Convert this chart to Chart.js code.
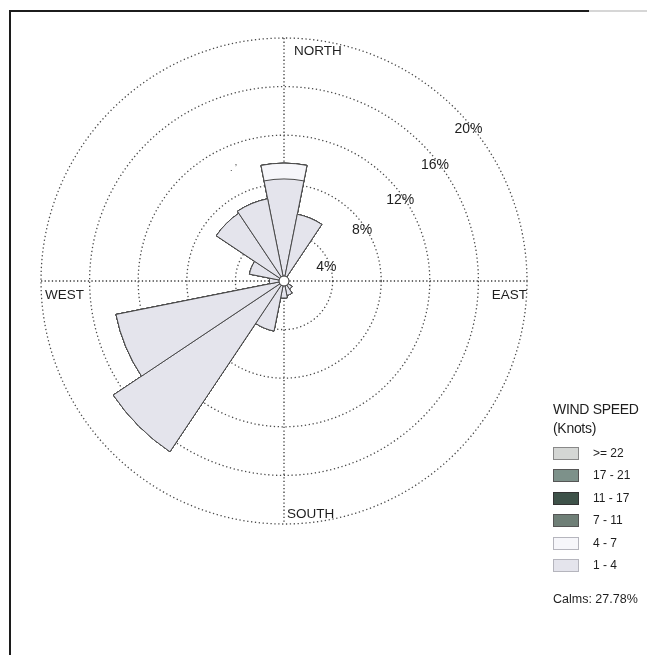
<!DOCTYPE html>
<html>
<head>
<meta charset="utf-8">
<script src="https://cdn.jsdelivr.net/npm/chart.js@4.4.0/dist/chart.umd.min.js"></script>
<style>
html,body{margin:0;padding:0;background:#fff;width:647px;height:655px;overflow:hidden;font-family:"Liberation Sans",Arial,sans-serif;}
#wrap{position:absolute;left:0;top:0;width:647px;height:655px;}
#c{position:absolute;left:0;top:0;}
#frameTop{position:absolute;left:9px;top:10px;width:580px;height:2px;background:#1c1c1c;}
#frameTop2{position:absolute;left:589px;top:10px;width:58px;height:2px;background:#d6d6d6;}
#frameLeft{position:absolute;left:9px;top:10px;width:2px;height:645px;background:#1c1c1c;}
#legend{position:absolute;left:553px;top:400px;color:#1e1e1e;}
#legend .t{font-size:14px;line-height:19px;letter-spacing:-0.3px;}
#legend .row{position:absolute;left:0;height:14px;width:100px;}
#legend .box{position:absolute;left:0;top:0;width:26px;height:13px;box-sizing:border-box;border:1px solid #888;}
#legend .lab{position:absolute;left:40px;top:-1px;font-size:12px;line-height:14px;white-space:nowrap;}
#calms{position:absolute;left:553px;top:592px;font-size:12.5px;color:#1e1e1e;white-space:nowrap;}
#stray{position:absolute;left:230px;top:163px;font-size:9px;color:#333;}
</style>
</head>
<body>
<div id="wrap">
  <canvas id="c" width="647" height="655"></canvas>
  <div id="frameTop"></div><div id="frameTop2"></div><div id="frameLeft"></div>
  <div id="stray">. ʼ</div>
  <div id="legend"></div>
  <div id="calms"></div>
</div>
<script>
// ---- data (percent of observations, 16 directions clockwise from North) ----
const directions = ['N','NNE','NE','ENE','E','ESE','SE','SSE','S','SSW','SW','WSW','W','WNW','NW','NNW'];
const speed1to4  = [8.4, 5.6, 0.3, 0.2, 0.2, 0.3, 0.8, 1.2, 1.4, 4.2, 16.9, 14.1, 1.2, 2.9, 6.7, 6.9];
const speed4to7  = [1.3, 0, 0, 0, 0, 0, 0, 0, 0, 0, 0, 0, 0, 0, 0, 0];
const speed7to11 = [0, 0, 0, 0, 0, 0, 0, 0, 0, 0, 0, 0, 0, 0, 0, 0];
const speed11to17= [0, 0, 0, 0, 0, 0, 0, 0, 0, 0, 0, 0, 0, 0, 0, 0];
const speed17to21= [0, 0, 0, 0, 0, 0, 0, 0, 0, 0, 0, 0, 0, 0, 0, 0];
const speed22up  = [0, 0, 0, 0, 0, 0, 0, 0, 0, 0, 0, 0, 0, 0, 0, 0];
const speedClasses = ['1 - 4', '4 - 7', '7 - 11', '11 - 17', '17 - 21', '>= 22'];
const ringTicks = [4, 8, 12, 16, 20];
const ringLabels = ['4%', '8%', '12%', '16%', '20%'];
const calmsPct = 27.78;
const compassLabels = ['NORTH', 'EAST', 'SOUTH', 'WEST'];

// ---- styles ----
const classColors  = ['#e4e4ec', '#f6f6fa', '#6f7f77', '#3e5249', '#7d918a', '#d4d6d4'];
const classBorders = ['#b5b5bd', '#b5b5bd', '#555', '#333', '#555', '#888'];
const ringLabelBearing = [72, 57, 55, 52.5, 50.5];

const series = [speed1to4, speed4to7, speed7to11, speed11to17, speed17to21, speed22up];
// cumulative (stacked) radii for each speed class
const cumulative = [];
series.forEach((s, i) => {
  cumulative.push(s.map((v, k) => v + (i > 0 ? cumulative[i - 1][k] : 0)));
});

const datasets = series.map((s, i) => ({
  label: speedClasses[i],
  data: cumulative[i],
  backgroundColor: classColors[i],
  borderColor: '#4a4a4a',
  borderWidth: 1
}));

const decor = {
  id: 'decor',
  beforeDatasetsDraw(chart) {
    const s = chart.scales.r, ctx = chart.ctx;
    const cx = s.xCenter, cy = s.yCenter, R = s.drawingArea;
    ctx.save();
    ctx.strokeStyle = '#3a3a3a';
    ctx.lineWidth = 1.3;
    ctx.setLineDash([1.3, 2.3]);
    ctx.beginPath();
    ctx.moveTo(cx - R, cy); ctx.lineTo(cx + R, cy);
    ctx.moveTo(cx, cy - R); ctx.lineTo(cx, cy + R);
    ctx.stroke();
    ctx.restore();
  },
  afterDatasetsDraw(chart) {
    const s = chart.scales.r, ctx = chart.ctx;
    const cx = s.xCenter, cy = s.yCenter, R = s.drawingArea;
    ctx.save();
    // calm circle
    ctx.beginPath();
    ctx.arc(cx, cy, 5, 0, Math.PI * 2);
    ctx.fillStyle = '#fff';
    ctx.fill();
    ctx.strokeStyle = '#333';
    ctx.lineWidth = 1;
    ctx.stroke();
    // ring labels
    ctx.fillStyle = '#1e1e1e';
    ctx.font = '14px "Liberation Sans", Arial, sans-serif';
    ctx.textAlign = 'center';
    ctx.textBaseline = 'middle';
    ringTicks.forEach((v, i) => {
      const r = s.getDistanceFromCenterForValue(v) - 4;
      const a = ringLabelBearing[i] * Math.PI / 180;
      ctx.fillText(ringLabels[i], cx + r * Math.sin(a), cy - r * Math.cos(a));
    });
    // compass labels
    ctx.font = '13.5px "Liberation Sans", Arial, sans-serif';
    ctx.textAlign = 'left';
    ctx.fillText(compassLabels[0], cx + 10, cy - R + 13);
    ctx.fillText(compassLabels[2], cx + 3, cy + R - 10);
    ctx.fillText(compassLabels[3], cx - R + 4, cy + 14);
    ctx.textAlign = 'right';
    ctx.fillText(compassLabels[1], cx + R, cy + 14);
    ctx.restore();
  }
};

const chart = new Chart(document.getElementById('c'), {
  type: 'polarArea',
  data: { labels: directions, datasets: datasets },
  options: {
    responsive: false,
    animation: false,
    layout: { padding: { left: 41, top: 38, right: 120, bottom: 131 } },
    plugins: { legend: { display: false }, tooltip: { enabled: false } },
    scales: {
      r: {
        min: 0,
        max: 20,
        startAngle: -11.25,
        ticks: { display: false, stepSize: 4 },
        grid: { circular: true, color: '#4a4a4a', lineWidth: 1.3 },
        border: { dash: [1.3, 2.6] },
        angleLines: { display: false },
        pointLabels: { display: false }
      }
    }
  },
  plugins: [decor]
});

// ---- legend (built from the chart datasets) ----
const leg = document.getElementById('legend');
leg.innerHTML = '<div class="t">WIND SPEED</div><div class="t">(Knots)</div>';
const ds = chart.data.datasets.slice().reverse();
const borders = classBorders.slice().reverse();
ds.forEach((d, i) => {
  const row = document.createElement('div');
  row.className = 'row';
  row.style.top = (47 + i * 22.4) + 'px';
  row.innerHTML = '<div class="box" style="background:' + d.backgroundColor + ';border-color:' + borders[i] + '"></div><div class="lab">' + d.label + '</div>';
  leg.appendChild(row);
});
document.getElementById('calms').textContent = 'Calms: ' + calmsPct.toFixed(2) + '%';
</script>
</body>
</html>
